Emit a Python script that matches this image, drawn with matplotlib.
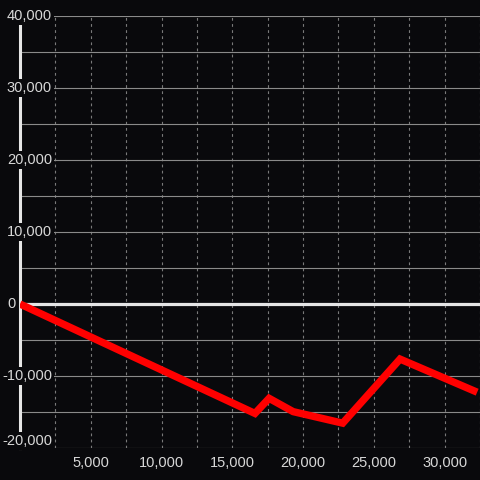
import matplotlib
matplotlib.use('Agg')
import matplotlib.pyplot as plt
import matplotlib.transforms as mtransforms

# === DATI ===
x_vals = [0, 16600, 17600, 19300, 22800, 26850, 32300]
y_vals = [0, -15200, -13100, -14950, -16550, -7650, -12250]

y_ticks = [-20000, -10000, 0, 10000, 20000, 30000, 40000]
y_labels = ['-20,000', '-10,000', '0', '10,000', '20,000', '30,000', '40,000']
x_ticks = [5000, 10000, 15000, 20000, 25000, 30000]
x_labels = ['5,000', '10,000', '15,000', '20,000', '25,000', '30,000']

bg = '#09090c'
txt = '#d8d8d8'

fig = plt.figure(figsize=(4.8, 4.8), dpi=100, facecolor=bg)
ax = fig.add_axes([20 / 480, 32 / 480, 460 / 480, 432 / 480], facecolor=bg)

ax.set_xlim(0, 32300)
ax.set_ylim(-20000, 40000)

# griglia
ax.set_xticks(x_ticks)
ax.set_xticks([v + 2500 for v in [0] + x_ticks], minor=True)
ax.set_xticklabels(x_labels)
ax.set_yticks(y_ticks)
ax.set_yticks([v + 5000 for v in y_ticks[:-1]], minor=True)
ax.set_yticklabels([])
ax.grid(True, axis='x', which='both', color='#7a7a7a', linestyle=(0, (2.5, 3)), linewidth=0.8)
ax.grid(True, axis='y', which='both', color='#8a8a8a', linestyle='-', linewidth=0.8)
ax.tick_params(axis='both', which='both', length=0)
ax.tick_params(axis='x', colors=txt, labelsize=10.5, pad=6)
for lbl in ax.get_xticklabels():
    lbl.set_fontfamily('Liberation Sans')

for s in ['top', 'right', 'bottom']:
    ax.spines[s].set_visible(False)
ax.spines['left'].set_color('#e6e6e6')
ax.spines['left'].set_linewidth(2.2)

ax.axhline(0, color='#e6e6e6', linewidth=2.3, zorder=2.5)

ax.plot(x_vals, y_vals, color='#ff0000', linewidth=5.3,
        solid_joinstyle='miter', solid_capstyle='butt', zorder=3)

# etichette asse y (dentro il grafico, con sfondo)
trans = mtransforms.blended_transform_factory(ax.transAxes, ax.transData)
for v, lab in zip(y_ticks, y_labels):
    xpos = (52 - 20) / 460 if v != 0 else (16 - 20) / 460
    va = 'bottom' if v == -20000 else 'center'
    ax.text(xpos, v, lab, transform=trans, ha='right', va=va, color=txt,
            fontsize=10.5, fontfamily='Liberation Sans', zorder=5, clip_on=False,
            bbox=dict(boxstyle='square,pad=0.12', fc=bg, ec='none'))

fig.savefig('out.png', dpi=100, facecolor=bg)
